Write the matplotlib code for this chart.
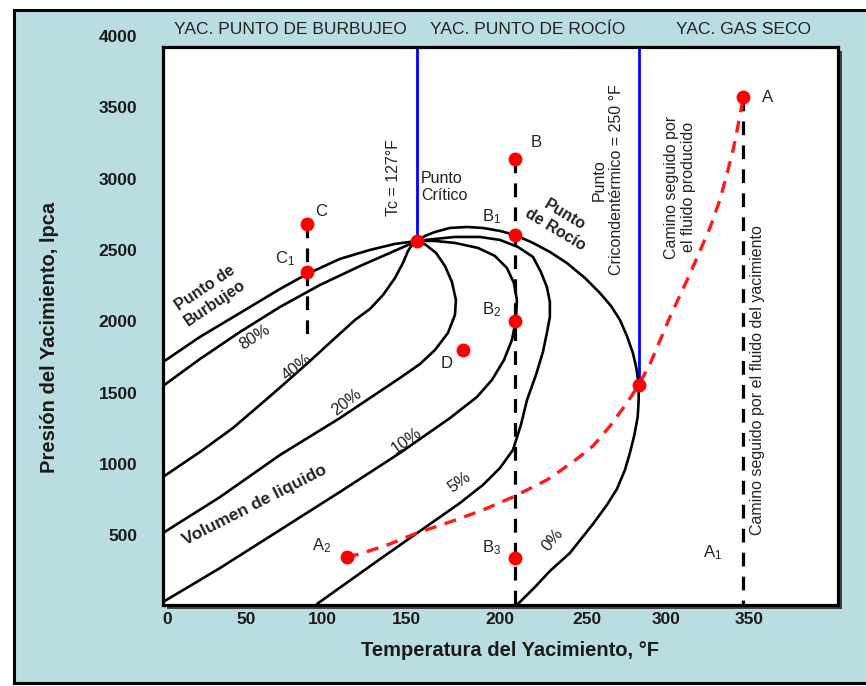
import matplotlib
matplotlib.use('Agg')
import matplotlib.pyplot as plt
from matplotlib.patches import Rectangle

plt.rcParams['font.family'] = ['Liberation Sans', 'DejaVu Sans']
plt.rcParams['mathtext.fontset'] = 'custom'
plt.rcParams['mathtext.rm'] = 'Liberation Sans'
plt.rcParams['mathtext.it'] = 'Liberation Sans'

# ---------------- data (Temperature °F, Pressure lpca) ----------------
bubble_T = [-1.2, 21.1, 45.3, 69.4, 85.7, 105.6, 123.7, 138.8, 152.1]
bubble_P = [1725, 1901, 2069, 2237, 2342, 2448, 2511, 2553, 2574]

q80_T = [-1.2, 21.1, 45.3, 69.4, 93.5, 117.7, 135.8, 152.1]
q80_P = [1557, 1746, 1936, 2111, 2265, 2398, 2490, 2574]

q40_T = [-1.2, 21.1, 41.0, 57.3, 71.2, 87.5, 101.4, 114.7, 123.7, 131.6, 138.8, 143.6, 146.7, 149.1, 152.1]
q40_P = [919, 1094, 1262, 1424, 1564, 1732, 1880, 2020, 2097, 2195, 2314, 2419, 2504, 2546, 2574]

q20_T = [-1.2, 33.2, 69.4, 105.6, 141.8, 153.9, 162.9, 170.8, 175.0, 175.6, 173.2, 169.0, 163.6, 157.5, 152.1]
q20_P = [526, 778, 1073, 1332, 1613, 1711, 1809, 1929, 2055, 2160, 2286, 2398, 2490, 2546, 2574]

q10_T = [-1.2, 33.2, 69.4, 105.6, 141.8, 172.0, 188.3, 197.3, 204.6, 209.4, 211.8, 212.4, 210.6, 206.4,
         199.1, 188.9, 175.0, 163.0, 152.1]
q10_P = [42, 280, 547, 814, 1087, 1332, 1480, 1599, 1739, 1880, 2020, 2160, 2279, 2384,
         2469, 2525, 2560, 2574, 2574]

q05_T = [91.7, 131.6, 161.7, 178.0, 191.9, 202.2, 210.0, 214.8, 218.5, 223.9, 228.1, 230.5, 232.3, 232.3,
         230.5, 226.9, 222.1, 213.0, 202.2, 190.1, 175.0, 163.0, 152.1]
q05_P = [28, 358, 603, 736, 863, 982, 1108, 1283, 1459, 1634, 1795, 1929, 2041, 2146,
         2251, 2356, 2462, 2532, 2581, 2602, 2602, 2588, 2574]

dew_T = [213.0, 223.3, 232.3, 244.4, 258.3, 266.7, 272.8, 277.6, 280.6, 283.3, 285.3, 285.9, 285.9, 284.5,
         282.4, 278.8, 274.6, 269.2, 262.5, 253.5, 242.6, 232.3, 222.1, 211.2, 202.2, 191.9, 182.3, 172.0,
         163.0, 156.9, 152.1]
dew_P = [28, 147, 259, 386, 589, 722, 835, 968, 1087, 1213, 1339, 1459, 1564, 1683,
         1788, 1908, 2020, 2118, 2209, 2314, 2419, 2497, 2560, 2616, 2644, 2665, 2672, 2665,
         2637, 2609, 2574]

path_T = [109.8, 117.7, 135.8, 152.1, 172.0, 191.9, 210.0, 230.5, 238.4, 249.3, 258.3, 268.6, 278.8, 285.9,
          292.7, 304.8, 316.8, 328.9, 334.9, 339.2, 342.9, 345.2, 347.1, 349.0]
path_P = [358, 379, 449, 526, 603, 687, 778, 898, 961, 1052, 1136, 1276, 1438, 1564,
          1711, 2041, 2342, 2665, 2861, 3044, 3212, 3345, 3457, 3583]

# marked points
crit_T, crit_P = 152.1, 2574
cric_T, cric_P = 285.9, 1564
pt_names = ['A', 'B', 'B1', 'B2', 'B3', 'C', 'C1', 'D', 'A2', 'crit', 'cric']
pt_T = [349.0, 211.2, 211.2, 211.2, 211.2, 85.7, 85.7, 179.8, 109.8, crit_T, cric_T]
pt_P = [3583, 3149, 2616, 2013, 351, 2693, 2356, 1809, 358, crit_P, cric_P]

# vertical dashed paths
A_line_T, A_line_P = [349.0, 349.0], [3583, 21]
B_line_T, B_line_P = [211.2, 211.2], [3149, 21]
C_line_T, C_line_P = [85.7, 85.7], [2693, 1858]

# ticks
x_tick_pos = [1.2, 48.9, 94.7, 146.0, 202.2, 254.7, 302.4, 352.5]
x_tick_labels = ['0', '50', '100', '150', '200', '250', '300', '350']
y_tick_vals = [500, 1000, 1500, 2000, 2500, 3000, 3500, 4000]

# ---------------- figure ----------------
W, H = 866, 686
fig = plt.figure(figsize=(W / 100, H / 100), dpi=100)
fig.patch.set_facecolor('white')

def fx(px):
    return px / W

def fy(py):
    return 1 - py / H

bg = Rectangle((fx(14), fy(683)), 1.2, fy(10) - fy(683), transform=fig.transFigure,
               facecolor='#badde2', edgecolor='black', lw=2.2, zorder=-3)
fig.add_artist(bg)

ax_l, ax_r, ax_t, ax_b = 163, 838, 47, 605
shadow = Rectangle((fx(ax_l + 4), fy(ax_b + 4)), fx(ax_r) - fx(ax_l), fy(ax_t) - fy(ax_b),
                   transform=fig.transFigure, facecolor='#444444', edgecolor='none', zorder=-2)
fig.add_artist(shadow)

ax = fig.add_axes([fx(ax_l), fy(ax_b), fx(ax_r) - fx(ax_l), fy(ax_t) - fy(ax_b)])
ax.set_facecolor('white')
ax.set_xlim(-1.2, 406.2)
ax.set_ylim(21, 3934)
for s in ax.spines.values():
    s.set_linewidth(2.3)
    s.set_color('black')

ax.set_xticks(x_tick_pos, x_tick_labels)
ax.tick_params(axis='x', length=0, pad=5, labelsize=12.5)
for lab in ax.get_xticklabels():
    lab.set_fontweight('bold')
    lab.set_color('#1a1a1a')
ax.set_yticks([])
for v in y_tick_vals:
    ax.text(-0.038, v, str(v), transform=ax.get_yaxis_transform(), ha='right', va='center',
            fontsize=12.5, fontweight='bold', color='#1a1a1a', clip_on=False)

# blue reference lines
ax.plot([crit_T, crit_T], [crit_P, 3934], color='#0000ff', lw=2.0, zorder=2)
ax.plot([cric_T, cric_T], [cric_P, 3934], color='#0000ff', lw=2.0, zorder=2)

# envelope + quality lines
for T, P in [(bubble_T, bubble_P), (q80_T, q80_P), (q40_T, q40_P), (q20_T, q20_P),
             (q10_T, q10_P), (q05_T, q05_P), (dew_T, dew_P)]:
    ax.plot(T, P, color='black', lw=1.9, solid_joinstyle='round', solid_capstyle='round', zorder=3)

# dashed paths
for T, P in [(A_line_T, A_line_P), (B_line_T, B_line_P), (C_line_T, C_line_P)]:
    ax.plot(T, P, color='black', lw=2.3, dashes=(4.3, 3.2), zorder=3)
ax.plot(path_T, path_P, color='#ff1a1a', lw=2.4, dashes=(3.6, 2.6), zorder=4)

ax.plot(pt_T, pt_P, 'o', color='#ff0000', markersize=10, markeredgewidth=0, zorder=6)

# letter labels
lab_kw = dict(fontsize=12, color='#222222', ha='center', va='center', zorder=7)
ax.text(223.9, 3261, 'B', **lab_kw)
ax.text(197.3, 2742, r'B$_1$', **lab_kw)
ax.text(197.3, 2090, r'B$_2$', **lab_kw)
ax.text(197.3, 421, r'B$_3$', **lab_kw)
ax.text(94.1, 2777, 'C', **lab_kw)
ax.text(72.4, 2448, r'C$_1$', **lab_kw)
ax.text(170.2, 1718, 'D', **lab_kw)
ax.text(363.9, 3577, 'A', **lab_kw)
ax.text(330.7, 386, r'A$_1$', **lab_kw)
ax.text(94.7, 435, r'A$_2$', **lab_kw)

# annotations
ann = dict(color='#222222', zorder=7)
ax.text(138.2, 3016, 'Tc = 127°F', rotation=90, fontsize=11.5, ha='center', va='center', **ann)
ax.text(154.5, 2952, 'Punto\nCrítico', fontsize=11.5, ha='left', va='center', linespacing=1.15, **ann)
ax.text(267.4, 3002, 'Punto\nCricondentérmico = 250 °F', rotation=90, fontsize=11.5,
        ha='center', va='center', multialignment='center', linespacing=1.2, **ann)
ax.text(310.8, 2952, 'Camino seguido por\nel fluido producido', rotation=90, fontsize=11.5,
        ha='center', va='center', multialignment='center', linespacing=1.2, **ann)
ax.text(357.9, 1599, 'Camino seguido por el fluido del yacimiento', rotation=90, fontsize=11.5,
        ha='center', va='center', **ann)
ax.text(27.0, 2190, 'Punto de\nBurbujeo', rotation=34, fontsize=11.5, fontweight='bold',
        ha='center', va='center', multialignment='center', rotation_mode='anchor', **ann)
ax.text(238.4, 2707, 'Punto\nde Rocío', rotation=-31, fontsize=11.5, fontweight='bold',
        ha='center', va='center', multialignment='center', rotation_mode='anchor', **ann)
ax.text(54.3, 722, 'Volumen de liquido', rotation=27, fontsize=12.5, fontweight='bold',
        ha='center', va='center', rotation_mode='anchor', **ann)

pct_kw = dict(fontsize=12, ha='center', va='center', rotation_mode='anchor', **ann)
ax.text(54.3, 1900, '80%', rotation=33, **pct_kw)
ax.text(79.7, 1690, '40%', rotation=38, **pct_kw)
ax.text(109.8, 1445, '20%', rotation=38, **pct_kw)
ax.text(146.0, 1171, '10%', rotation=36, **pct_kw)
ax.text(178.0, 884, '5%', rotation=36, **pct_kw)
ax.text(234.2, 477, '0%', rotation=50, **pct_kw)

# region headers and axis titles
hdr = dict(fontsize=12.5, color='#222222', ha='center', va='center')
fig.text(fx(290), fy(29), 'YAC. PUNTO DE BURBUJEO', **hdr)
fig.text(fx(528), fy(29), 'YAC. PUNTO DE ROCÍO', **hdr)
fig.text(fx(744), fy(29), 'YAC. GAS SECO', **hdr)
fig.text(fx(510), fy(651), 'Temperatura del Yacimiento, °F', fontsize=14.5, fontweight='bold',
         color='#1a1a1a', ha='center', va='center')
fig.text(fx(50), fy(337), 'Presión del Yacimiento, lpca', fontsize=14.5, fontweight='bold',
         color='#1a1a1a', ha='center', va='center', rotation=90)

fig.savefig('out.png', dpi=100, facecolor=fig.get_facecolor())
